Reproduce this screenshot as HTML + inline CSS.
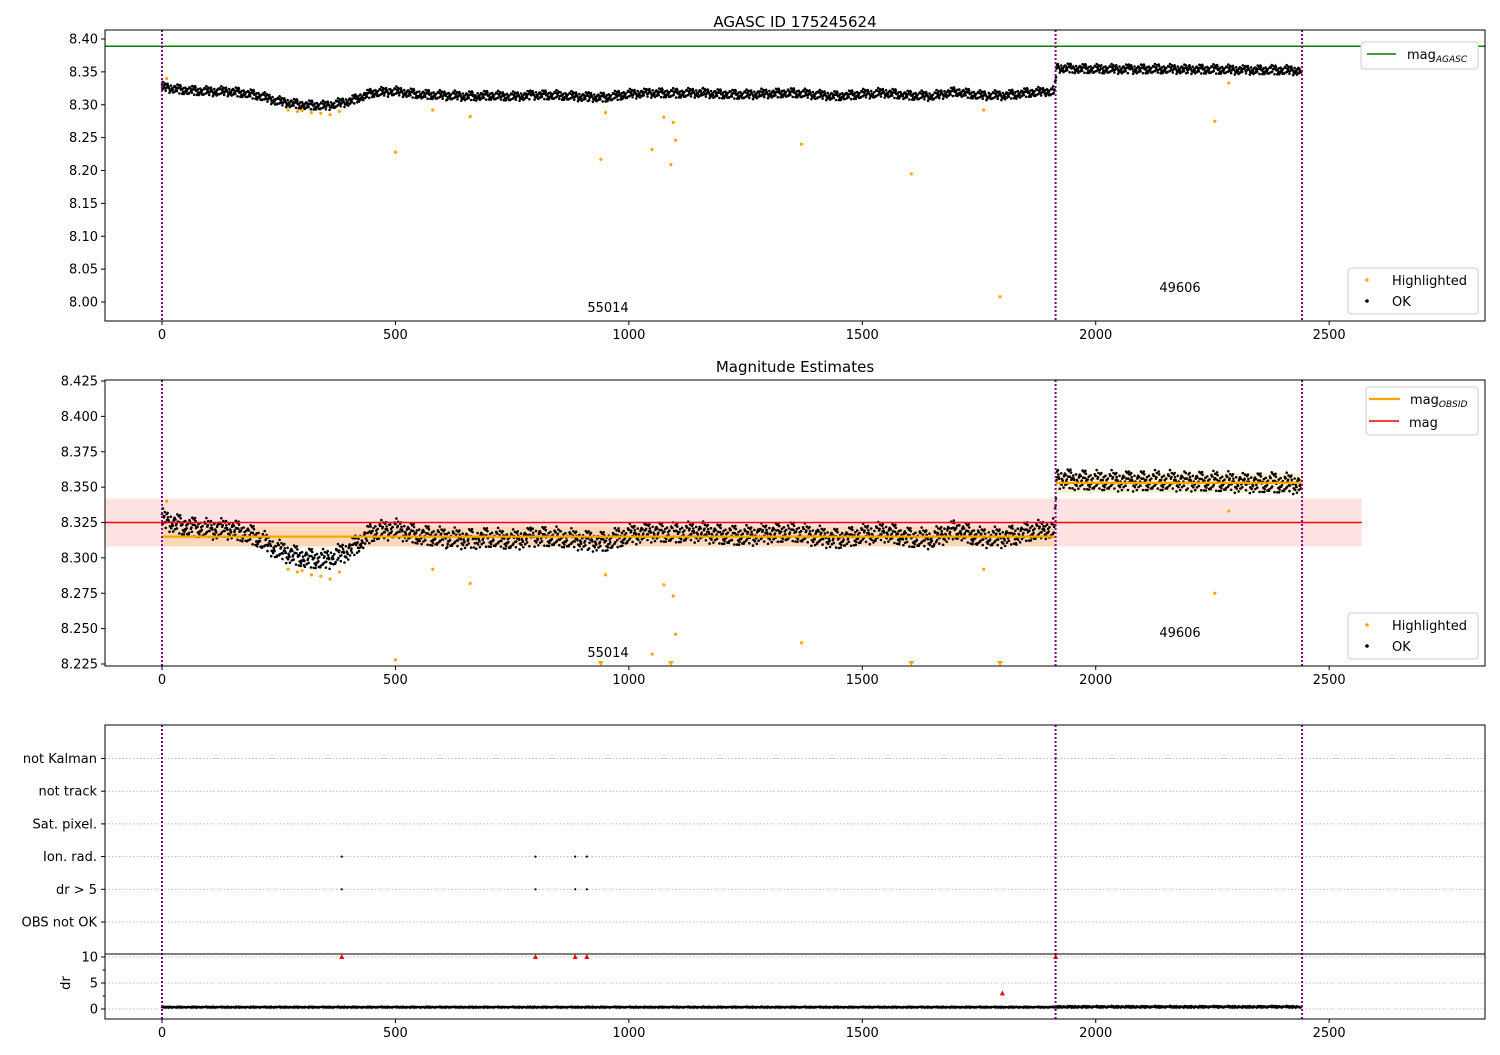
<!DOCTYPE html>
<html><head><meta charset="utf-8"><style>
body{margin:0;background:#fff;font-family:"Liberation Sans","DejaVu Sans",sans-serif}
text{font-family:"DejaVu Sans","Liberation Sans",sans-serif;}
</style></head><body>
<svg id="c" width="1500" height="1050" xmlns="http://www.w3.org/2000/svg"></svg>
<script>
// ---- data ----
const trendIdx=[0,50,100,150,200,250,300,350,400,450,500,550,600,650,700,750,800,850,900,950,1000,1050,1100,1150,1200,1250,1300,1350,1400,1450,1500,1550,1600,1650,1700,1750,1800,1850,1912,1916,2000,2100,2200,2300,2440];
const trendMag=[8.327,8.322,8.320,8.320,8.315,8.305,8.300,8.298,8.305,8.318,8.320,8.316,8.314,8.313,8.314,8.312,8.315,8.314,8.312,8.311,8.316,8.318,8.317,8.318,8.316,8.315,8.317,8.318,8.315,8.313,8.316,8.318,8.314,8.313,8.320,8.314,8.314,8.318,8.320,8.356,8.354,8.354,8.354,8.353,8.352];
const residuals=[0.004,-0.003,0.006,-0.005,0.001,0.003,-0.006,0.002,-0.001,0.005,-0.004,0.000,0.007,-0.002,-0.005,0.003,0.001,-0.003,0.004,-0.006,0.002,0.006,-0.001,-0.004,0.003,
-0.002,0.000,0.005,-0.007,0.002,0.001,-0.001,0.004,-0.003,0.008,-0.004,0.002,-0.005,0.003,0.000,-0.002,0.006,-0.006,0.001,0.004,-0.003,0.002,-0.001,0.005,-0.004,
0.003,-0.002,0.000,0.007,-0.005,0.001,-0.003,0.004,-0.001,0.002,-0.006];
const hiIdx=[10,270,290,300,320,340,360,380,500,580,660,940,950,1050,1075,1090,1095,1100,1370,1605,1760,1795,2255,2285];
const hiMag=[8.340,8.292,8.290,8.291,8.288,8.287,8.285,8.290,8.228,8.292,8.282,8.217,8.288,8.232,8.281,8.209,8.273,8.246,8.240,8.195,8.292,8.008,8.275,8.333];
const obsStart=[0,1914];const obsEnd=[1912,2442];const obsMean=[8.315,8.353];const obsIds=["55014","49606"];
const magMean=8.325, magLo=8.308, magHi=8.342, magAgasc=8.389;
const flagCats=["OBS not OK","dr > 5","Ion. rad.","Sat. pixel.","not track","not Kalman"];
const flagIdx=[385,800,885,910,385,800,885,910,1914];
const flagCat=[1,1,1,1,2,2,2,2,5];
const drBigIdx=[385,800,885,910,1914,1800];
const drBigVal=[10,10,10,10,10,3];
const xTicks=[0,500,1000,1500,2000,2500];
const y1Ticks=[8.00,8.05,8.10,8.15,8.20,8.25,8.30,8.35,8.40];
const y2Ticks=[8.225,8.250,8.275,8.300,8.325,8.350,8.375,8.400,8.425];
const drTicks=[0,5,10];

const S=document.getElementById('c');const NS='http://www.w3.org/2000/svg';
function el(t,a,p){const e=document.createElementNS(NS,t);for(const k in a)e.setAttribute(k,a[k]);(p||S).appendChild(e);return e;}
const X=v=>162+v*0.46686;
const RN=residuals.length;
function res(i){return residuals[(i*17+Math.floor(i/RN)*5)%RN];}
function trend(i){for(let k=0;k<trendIdx.length-1;k++){if(i<=trendIdx[k+1]){const f=(i-trendIdx[k])/(trendIdx[k+1]-trendIdx[k]);return trendMag[k]+f*(trendMag[k+1]-trendMag[k]);}}return trendMag[trendMag.length-1];}
const L=105,R=1485;
function frame(top,bot,name){const r=el('rect',{x:L,y:top,width:R-L,height:bot-top,fill:'none',stroke:'#000','stroke-width':1});
}
function xaxis(bot,name){const g=el('g',{});
xTicks.forEach(t=>{el('line',{x1:X(t),x2:X(t),y1:bot,y2:bot+4,stroke:'#000'},g);const tx=el('text',{x:X(t),y:bot+18,'text-anchor':'middle','font-size':13},g);tx.textContent=t;});}
function yaxis(ticks,Y,name,fmt){const g=el('g',{});
ticks.forEach(t=>{el('line',{x1:L-4,x2:L,y1:Y(t),y2:Y(t),stroke:'#000'},g);const tx=el('text',{x:L-7,y:Y(t)+4.5,'text-anchor':'end','font-size':13},g);tx.textContent=fmt(t);});}
function vlines(top,bot){[0,1914,2442].forEach(v=>{const l=el('line',{x1:X(v),x2:X(v),y1:top,y2:bot,stroke:'#800080','stroke-width':2,'stroke-dasharray':'2,2'});
});}
function points(Y,top,bot,name,tri){const g=el('g',{});
let d='';for(let i=0;i<=2440;i++){const m=trend(i)+res(i);const y=Y(m);if(y<top||y>bot)continue;d+=`M${X(i).toFixed(1)} ${y.toFixed(1)}h0`;}
el('path',{d:d,stroke:'#000','stroke-width':2.6,'stroke-linecap':'round',fill:'none'},g);
const h=el('g',{});
hiIdx.forEach((v,k)=>{let y=Y(hiMag[k]);if(y>bot){if(tri)el('path',{d:`M${X(v)-3} ${bot-5}h6l-3 5z`,fill:'orange'},h);return;}el('circle',{cx:X(v),cy:y,r:1.6,fill:'orange'},h);});}
function legendPts(top){const g=el('g',{});
el('rect',{x:1348,y:top,width:130,height:46,rx:3,fill:'#fff',stroke:'#ccc'},g);
el('circle',{cx:1367,cy:top+12,r:1.8,fill:'orange'},g);el('circle',{cx:1367,cy:top+33,r:1.8,fill:'#000'},g);
let t=el('text',{x:1392,y:top+17,'font-size':13},g);t.textContent='Highlighted';t=el('text',{x:1392,y:top+38,'font-size':13},g);t.textContent='OK';}
function title(y,s,n){const t=el('text',{x:795,y:y,'text-anchor':'middle','font-size':15});t.textContent=s;}
function label(x,y,s){const t=el('text',{x:x,y:y,'text-anchor':'middle','font-size':13});t.textContent=s;}

// ---- panel 1 ----
const Y1=v=>302-(v-8.0)*657.5;
title(27,'AGASC ID 175245624','title-top');
const g1=el('line',{x1:L,x2:R,y1:Y1(magAgasc),y2:Y1(magAgasc),stroke:'green','stroke-width':1.5});
points(Y1,30,321,'magnitude-points',false);
vlines(30,321);
label(608,312,obsIds[0]);label(1180,292,obsIds[1]);
frame(30,321,'top-axes');xaxis(321,'x-axis-top');yaxis(y1Ticks,Y1,'y-axis-top',t=>t.toFixed(2));
legendPts(268);
(function(){const g=el('g',{});
el('rect',{x:1361,y:42,width:117,height:27,rx:3,fill:'#fff',stroke:'#ccc'},g);el('line',{x1:1367,x2:1396,y1:54,y2:54,stroke:'green','stroke-width':1.5},g);
const t=el('text',{x:1407,y:59,'font-size':13},g);t.innerHTML='mag<tspan font-size="9" font-style="italic" dy="3">AGASC</tspan>';})();

// ---- panel 2 ----
const Y2=v=>664-(v-8.225)*1415;
title(372,'Magnitude Estimates','title-middle');
let b=el('rect',{x:L,y:Y2(magHi),width:X(2570)-L,height:Y2(magLo)-Y2(magHi),fill:'red','fill-opacity':0.11});
obsStart.forEach((s,k)=>{const r=el('rect',{x:X(s),y:Y2(obsMean[k]+0.007),width:X(obsEnd[k])-X(s),height:Y2(obsMean[k]-0.007)-Y2(obsMean[k]+0.007),fill:'orange','fill-opacity':0.18});});
points(Y2,380,666,'magnitude-points',true);
let rl=el('line',{x1:L,x2:X(2570),y1:Y2(magMean),y2:Y2(magMean),stroke:'red','stroke-width':1.5});
obsStart.forEach((s,k)=>{const l=el('line',{x1:X(s),x2:X(obsEnd[k]),y1:Y2(obsMean[k]),y2:Y2(obsMean[k]),stroke:'orange','stroke-width':2.2});});
vlines(380,666);
label(608,657,obsIds[0]);label(1180,637,obsIds[1]);
frame(380,666,'middle-axes');xaxis(666,'x-axis-middle');yaxis(y2Ticks,Y2,'y-axis-middle',t=>t.toFixed(3));
legendPts(613);
(function(){const g=el('g',{});
el('rect',{x:1366,y:387,width:112,height:48,rx:3,fill:'#fff',stroke:'#ccc'},g);
el('line',{x1:1369,x2:1400,y1:399,y2:399,stroke:'orange','stroke-width':2.2},g);el('line',{x1:1369,x2:1399,y1:421,y2:421,stroke:'red','stroke-width':1.5},g);
let t=el('text',{x:1410,y:404,'font-size':13},g);t.innerHTML='mag<tspan font-size="9" font-style="italic" dy="3">OBSID</tspan>';t=el('text',{x:1409,y:427,'font-size':13},g);t.textContent='mag';})();

// ---- panel 3 ----
const FY=k=>922-k*32.7;
const DY=v=>1009-v*5.2;
flagCats.forEach((c,k)=>{el('line',{x1:L,x2:R,y1:FY(k),y2:FY(k),stroke:'#bbb','stroke-dasharray':'1.5,2'});const t=el('text',{x:L-8,y:FY(k)+4.5,'text-anchor':'end','font-size':13});t.textContent=c;el('line',{x1:L-4,x2:L,y1:FY(k),y2:FY(k),stroke:'#000'});});
drTicks.forEach(v=>el('line',{x1:L,x2:R,y1:DY(v),y2:DY(v),stroke:'#bbb','stroke-dasharray':'1.5,2'}));
const fg=el('g',{});
flagIdx.forEach((v,k)=>el('circle',{cx:X(v),cy:FY(flagCat[k]),r:1.1,fill:'#000'},fg));
(function(){const g=el('g',{});
let d='';for(let i=0;i<=2440;i++){const v=0.25+Math.abs(res(i))*30*(i>1914?1.6:1);d+=`M${X(i).toFixed(1)} ${DY(v).toFixed(1)}h0`;}
el('path',{d:d,stroke:'#000','stroke-width':2.4,'stroke-linecap':'round'},g);
drBigIdx.forEach((v,k)=>el('path',{d:`M${X(v)-2.5} ${DY(drBigVal[k])+2}h5l-2.5 -5z`,fill:'red'},g));})();
vlines(725,1019);
frame(725,1019,'bottom-axes');
el('line',{x1:L,x2:R,y1:954,y2:954,stroke:'#000','stroke-width':1});
xaxis(1019,'x-axis-bottom');yaxis(drTicks,DY,'y-axis-dr',t=>t);
[2.5,7.5].forEach(v=>el('line',{x1:L-2.5,x2:L,y1:DY(v),y2:DY(v),stroke:'#000'}));
const dl=el('text',{x:70,y:983,'font-size':13,transform:'rotate(-90 70 983)','text-anchor':'middle'});dl.textContent='dr';
</script>
</body></html>
